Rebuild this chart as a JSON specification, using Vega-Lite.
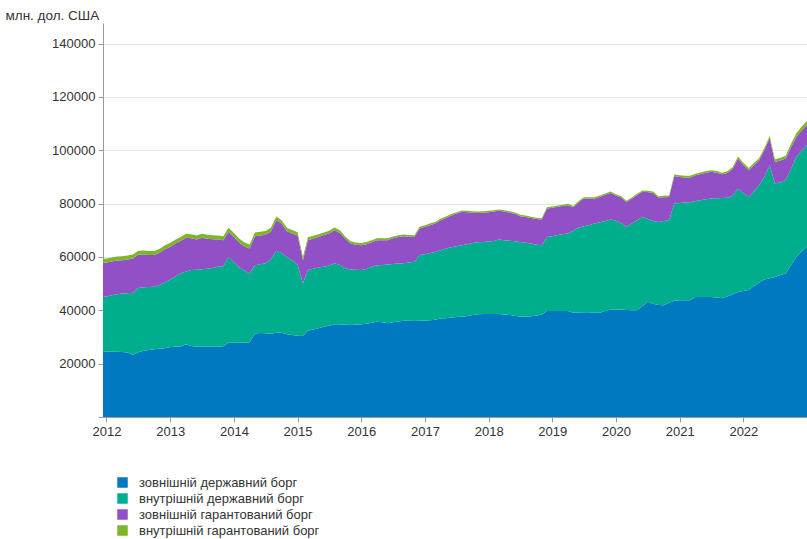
{
"$schema": "https://vega.github.io/schema/vega-lite/v6.json",
"width": 704, "height": 394,
"autosize": {"type": "none"},
"padding": {"left": 103, "top": 23, "right": 0, "bottom": 122},
"background": "white",
"config": {"view": {"stroke": null}, "font": "Liberation Sans"},
"data": {"values": [
{"d":"2011-12-01","a":24600,"b":20400,"c":12800,"e":1500},
{"d":"2012-01-01","a":24600,"b":20600,"c":12700,"e":1500},
{"d":"2012-02-01","a":24500,"b":21100,"c":12700,"e":1500},
{"d":"2012-03-01","a":24500,"b":21500,"c":12700,"e":1500},
{"d":"2012-04-01","a":24400,"b":21900,"c":12500,"e":1500},
{"d":"2012-05-01","a":24200,"b":22200,"c":12600,"e":1500},
{"d":"2012-06-01","a":23200,"b":23400,"c":12800,"e":1500},
{"d":"2012-07-01","a":24300,"b":24100,"c":12400,"e":1500},
{"d":"2012-08-01","a":24800,"b":23800,"c":12300,"e":1500},
{"d":"2012-09-01","a":25100,"b":23600,"c":12000,"e":1500},
{"d":"2012-10-01","a":25400,"b":23400,"c":11900,"e":1500},
{"d":"2012-11-01","a":25600,"b":23900,"c":12100,"e":1500},
{"d":"2012-12-01","a":25800,"b":24700,"c":12400,"e":1500},
{"d":"2013-01-01","a":26200,"b":25300,"c":12300,"e":1500},
{"d":"2013-02-01","a":26300,"b":26500,"c":12200,"e":1500},
{"d":"2013-03-01","a":26300,"b":27500,"c":12200,"e":1500},
{"d":"2013-04-01","a":27300,"b":27200,"c":12700,"e":1500},
{"d":"2013-05-01","a":26600,"b":28500,"c":11900,"e":1500},
{"d":"2013-06-01","a":26300,"b":28900,"c":11300,"e":1500},
{"d":"2013-07-01","a":26300,"b":29100,"c":11800,"e":1500},
{"d":"2013-08-01","a":26300,"b":29300,"c":11200,"e":1500},
{"d":"2013-09-01","a":26300,"b":29600,"c":10700,"e":1500},
{"d":"2013-10-01","a":26300,"b":30000,"c":10200,"e":1500},
{"d":"2013-11-01","a":26500,"b":30000,"c":9800,"e":1500},
{"d":"2013-12-01","a":27800,"b":32200,"c":9400,"e":1500},
{"d":"2014-01-01","a":27800,"b":30200,"c":9500,"e":1500},
{"d":"2014-02-01","a":27800,"b":28200,"c":9300,"e":1500},
{"d":"2014-03-01","a":27800,"b":27200,"c":9000,"e":1500},
{"d":"2014-04-01","a":28000,"b":25800,"c":9400,"e":1500},
{"d":"2014-05-01","a":31300,"b":25600,"c":10900,"e":1400},
{"d":"2014-06-01","a":31500,"b":25800,"c":10700,"e":1400},
{"d":"2014-07-01","a":31400,"b":26200,"c":10700,"e":1400},
{"d":"2014-08-01","a":31200,"b":27800,"c":10500,"e":1400},
{"d":"2014-09-01","a":31600,"b":30700,"c":11500,"e":1400},
{"d":"2014-10-01","a":31600,"b":29900,"c":11000,"e":1300},
{"d":"2014-11-01","a":31000,"b":29000,"c":9600,"e":1300},
{"d":"2014-12-01","a":30700,"b":28100,"c":10000,"e":1300},
{"d":"2015-01-01","a":30500,"b":26500,"c":11000,"e":1300},
{"d":"2015-02-01","a":30400,"b":19700,"c":8700,"e":1200},
{"d":"2015-03-01","a":32300,"b":22800,"c":11200,"e":1100},
{"d":"2015-04-01","a":32800,"b":22800,"c":11200,"e":1100},
{"d":"2015-05-01","a":33300,"b":22700,"c":11500,"e":1000},
{"d":"2015-06-01","a":33800,"b":22500,"c":11900,"e":1000},
{"d":"2015-07-01","a":34200,"b":22600,"c":12000,"e":1000},
{"d":"2015-08-01","a":34800,"b":22800,"c":12400,"e":1000},
{"d":"2015-09-01","a":34800,"b":22200,"c":12000,"e":1000},
{"d":"2015-10-01","a":34600,"b":21200,"c":11000,"e":900},
{"d":"2015-11-01","a":34500,"b":20800,"c":9700,"e":900},
{"d":"2015-12-01","a":34600,"b":20600,"c":9400,"e":800},
{"d":"2016-01-01","a":34800,"b":20300,"c":9300,"e":800},
{"d":"2016-02-01","a":35000,"b":20500,"c":9300,"e":800},
{"d":"2016-03-01","a":35300,"b":21000,"c":9200,"e":800},
{"d":"2016-04-01","a":35700,"b":21200,"c":9400,"e":700},
{"d":"2016-05-01","a":35500,"b":21500,"c":9300,"e":700},
{"d":"2016-06-01","a":35100,"b":22100,"c":9100,"e":700},
{"d":"2016-07-01","a":35500,"b":21900,"c":9600,"e":700},
{"d":"2016-08-01","a":35800,"b":21700,"c":10000,"e":600},
{"d":"2016-09-01","a":36100,"b":21500,"c":10200,"e":600},
{"d":"2016-10-01","a":36100,"b":21800,"c":9700,"e":600},
{"d":"2016-11-01","a":36000,"b":22200,"c":9300,"e":600},
{"d":"2016-12-01","a":36100,"b":24600,"c":10000,"e":600},
{"d":"2017-01-01","a":36200,"b":24800,"c":10300,"e":600},
{"d":"2017-02-01","a":36300,"b":25200,"c":10500,"e":600},
{"d":"2017-03-01","a":36500,"b":25400,"c":10600,"e":600},
{"d":"2017-04-01","a":37000,"b":25500,"c":11300,"e":600},
{"d":"2017-05-01","a":37000,"b":26200,"c":11400,"e":600},
{"d":"2017-06-01","a":37300,"b":26300,"c":11900,"e":600},
{"d":"2017-07-01","a":37500,"b":26500,"c":12300,"e":500},
{"d":"2017-08-01","a":37600,"b":26800,"c":12500,"e":500},
{"d":"2017-09-01","a":37900,"b":26900,"c":12000,"e":500},
{"d":"2017-10-01","a":38200,"b":27000,"c":11400,"e":500},
{"d":"2017-11-01","a":38500,"b":27000,"c":11000,"e":500},
{"d":"2017-12-01","a":38600,"b":27000,"c":11000,"e":500},
{"d":"2018-01-01","a":38600,"b":27200,"c":11000,"e":500},
{"d":"2018-02-01","a":38600,"b":27400,"c":11000,"e":500},
{"d":"2018-03-01","a":38600,"b":27900,"c":10800,"e":500},
{"d":"2018-04-01","a":38400,"b":27900,"c":10700,"e":500},
{"d":"2018-05-01","a":38200,"b":27900,"c":10500,"e":500},
{"d":"2018-06-01","a":38000,"b":27900,"c":10300,"e":500},
{"d":"2018-07-01","a":37600,"b":28000,"c":9700,"e":500},
{"d":"2018-08-01","a":37700,"b":27600,"c":9700,"e":500},
{"d":"2018-09-01","a":37800,"b":27200,"c":9600,"e":500},
{"d":"2018-10-01","a":38000,"b":26600,"c":9600,"e":500},
{"d":"2018-11-01","a":38400,"b":26000,"c":9600,"e":500},
{"d":"2018-12-01","a":39700,"b":27800,"c":10600,"e":500},
{"d":"2019-01-01","a":39700,"b":28100,"c":10600,"e":500},
{"d":"2019-02-01","a":39700,"b":28500,"c":10600,"e":500},
{"d":"2019-03-01","a":39700,"b":28800,"c":10600,"e":500},
{"d":"2019-04-01","a":39700,"b":29100,"c":10600,"e":500},
{"d":"2019-05-01","a":39100,"b":30700,"c":8800,"e":500},
{"d":"2019-06-01","a":39200,"b":31800,"c":9500,"e":500},
{"d":"2019-07-01","a":39300,"b":32200,"c":10400,"e":500},
{"d":"2019-08-01","a":39300,"b":32700,"c":9900,"e":500},
{"d":"2019-09-01","a":39100,"b":33400,"c":9400,"e":500},
{"d":"2019-10-01","a":39100,"b":33900,"c":9500,"e":500},
{"d":"2019-11-01","a":39800,"b":33700,"c":9800,"e":500},
{"d":"2019-12-01","a":40200,"b":33800,"c":10000,"e":500},
{"d":"2020-01-01","a":40300,"b":33300,"c":9400,"e":500},
{"d":"2020-02-01","a":40300,"b":32300,"c":9700,"e":500},
{"d":"2020-03-01","a":40100,"b":31200,"c":9300,"e":500},
{"d":"2020-04-01","a":40000,"b":32500,"c":9300,"e":500},
{"d":"2020-05-01","a":40000,"b":33800,"c":9400,"e":500},
{"d":"2020-06-01","a":41500,"b":33500,"c":9400,"e":500},
{"d":"2020-07-01","a":43200,"b":31100,"c":10000,"e":500},
{"d":"2020-08-01","a":42500,"b":31000,"c":10500,"e":500},
{"d":"2020-09-01","a":42000,"b":31100,"c":9200,"e":500},
{"d":"2020-10-01","a":41900,"b":31600,"c":8900,"e":500},
{"d":"2020-11-01","a":42800,"b":31000,"c":8700,"e":500},
{"d":"2020-12-01","a":43600,"b":36400,"c":10300,"e":600},
{"d":"2021-01-01","a":43800,"b":36400,"c":9800,"e":600},
{"d":"2021-02-01","a":43800,"b":36600,"c":9400,"e":600},
{"d":"2021-03-01","a":43800,"b":36700,"c":9300,"e":600},
{"d":"2021-04-01","a":45000,"b":36000,"c":9600,"e":600},
{"d":"2021-05-01","a":45000,"b":36300,"c":9800,"e":600},
{"d":"2021-06-01","a":45000,"b":36600,"c":10000,"e":600},
{"d":"2021-07-01","a":45000,"b":36900,"c":10000,"e":600},
{"d":"2021-08-01","a":44800,"b":37200,"c":9600,"e":600},
{"d":"2021-09-01","a":44500,"b":37600,"c":8900,"e":600},
{"d":"2021-10-01","a":45200,"b":37000,"c":9300,"e":600},
{"d":"2021-11-01","a":46000,"b":37000,"c":10000,"e":700},
{"d":"2021-12-01","a":46900,"b":38700,"c":11300,"e":800},
{"d":"2022-01-01","a":47200,"b":36800,"c":10500,"e":800},
{"d":"2022-02-01","a":47600,"b":34900,"c":10000,"e":800},
{"d":"2022-03-01","a":49000,"b":35500,"c":9800,"e":800},
{"d":"2022-04-01","a":50300,"b":36600,"c":9300,"e":800},
{"d":"2022-05-01","a":51500,"b":38500,"c":10000,"e":800},
{"d":"2022-06-01","a":52000,"b":42400,"c":10000,"e":900},
{"d":"2022-07-01","a":52500,"b":35000,"c":8100,"e":1000},
{"d":"2022-08-01","a":53200,"b":34800,"c":8200,"e":1000},
{"d":"2022-09-01","a":53800,"b":35000,"c":8100,"e":1000},
{"d":"2022-10-01","a":57000,"b":36000,"c":8000,"e":1300},
{"d":"2022-11-01","a":60000,"b":37500,"c":7500,"e":1400},
{"d":"2022-12-01","a":62000,"b":37800,"c":7500,"e":1500},
{"d":"2023-01-01","a":63800,"b":38100,"c":7500,"e":1600}
]},
"transform": [{"fold": ["a", "b", "c", "e"], "as": ["s", "v"]}],
"mark": {"type": "area", "clip": true, "interpolate": "linear"},
"encoding": {
  "x": {"field": "d", "type": "temporal",
    "scale": {"type": "utc", "domain": [{"year": 2011, "month": 12, "date": 12, "utc": true}, {"year": 2023, "month": 1, "date": 1, "utc": true}]},
    "axis": {"title": null, "format": "%Y", "grid": false,
      "values": [{"year":2012,"month":1,"date":1,"utc":true},{"year":2013,"month":1,"date":1,"utc":true},{"year":2014,"month":1,"date":1,"utc":true},{"year":2015,"month":1,"date":1,"utc":true},{"year":2016,"month":1,"date":1,"utc":true},{"year":2017,"month":1,"date":1,"utc":true},{"year":2018,"month":1,"date":1,"utc":true},{"year":2019,"month":1,"date":1,"utc":true},{"year":2020,"month":1,"date":1,"utc":true},{"year":2021,"month":1,"date":1,"utc":true},{"year":2022,"month":1,"date":1,"utc":true}],
      "domainColor": "#999999", "tickColor": "#999999", "tickSize": 5, "labelFontSize": 13, "labelColor": "#333333", "labelPadding": 3, "labelFlush": false, "labelOverlap": false}},
  "y": {"field": "v", "type": "quantitative", "stack": "zero",
    "scale": {"domain": [0, 147700], "nice": false},
    "axis": {"title": "млн. дол. США", "titleAngle": 0, "titleAlign": "left", "titleBaseline": "middle", "titleX": -98, "titleY": -8, "titleFontWeight": "normal", "titleFontSize": 13.5, "titleColor": "#333333",
      "values": [0, 20000, 40000, 60000, 80000, 100000, 120000, 140000], "format": "d",
      "labelExpr": "datum.value == 0 ? '' : datum.label",
      "gridColor": "#e4e4e4", "domainColor": "#999999", "tickColor": "#999999", "tickSize": 5, "labelFontSize": 13, "labelColor": "#333333", "labelPadding": 3}},
  "color": {"field": "s", "type": "nominal",
    "scale": {"domain": ["a", "b", "c", "e"], "range": ["#0079c1", "#00ae8d", "#9250c6", "#7db52b"]},
    "legend": {"orient": "none", "legendX": 13, "legendY": 453, "title": null, "direction": "vertical", "padding": 0,
      "symbolType": "square", "symbolSize": 110, "symbolStrokeWidth": 0, "symbolOpacity": 1,
      "labelFontSize": 13, "labelLimit": 0, "labelColor": "#333333", "labelOffset": 10, "rowPadding": 2,
      "labelExpr": "datum.label == 'a' ? 'зовнішній державний борг' : datum.label == 'b' ? 'внутрішній державний борг' : datum.label == 'c' ? 'зовнішній гарантований борг' : 'внутрішній гарантований борг'"}},
  "order": {"field": "s", "type": "ordinal", "sort": "ascending"}
}
}
